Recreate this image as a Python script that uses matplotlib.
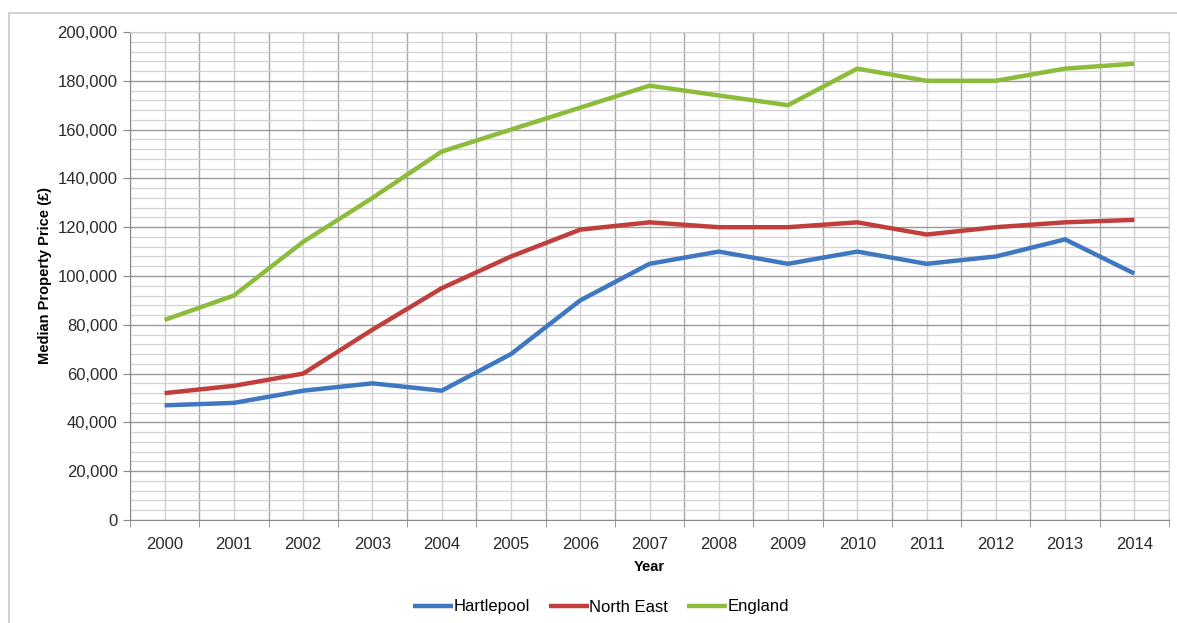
import numpy as np
import matplotlib
matplotlib.use('Agg')
from matplotlib import pyplot as plt
from matplotlib.patches import Rectangle

plt.rcParams['font.family'] = ['Liberation Sans', 'DejaVu Sans']

# median property price (GBP)
years = ['2000', '2001', '2002', '2003', '2004', '2005', '2006', '2007',
         '2008', '2009', '2010', '2011', '2012', '2013', '2014']
hartlepool = [47000, 48000, 53000, 56000, 53000, 68000, 90000, 105000,
              110000, 105000, 110000, 105000, 108000, 115000, 101000]
north_east = [52000, 55000, 60000, 78000, 95000, 108000, 119000, 122000,
              120000, 120000, 122000, 117000, 120000, 122000, 123000]
england = [82000, 92000, 114000, 132000, 151000, 160000, 169000, 178000,
           174000, 170000, 185000, 180000, 180000, 185000, 187000]

series_names = ['Hartlepool', 'North East', 'England']
series_colors = ['#3f77c0', '#c03f3d', '#8dbb3c']


def main():
    fig = plt.figure(figsize=(11.77, 6.23), dpi=100)

    # outer chart frame (runs off the right/bottom of the screenshot)
    fig.patches.append(Rectangle((9 / 1177, -0.05), 1.2, 1 - 13 / 623 + 0.05,
                                 transform=fig.transFigure, fill=False,
                                 edgecolor='#c8c8c8', linewidth=1.2))

    ax = fig.add_axes([130 / 1177, 1 - 520 / 623, 1039 / 1177, 488 / 623])
    x = np.arange(len(years))

    for vals, name, col in zip([hartlepool, north_east, england],
                               series_names, series_colors):
        ax.plot(x, vals, color=col, linewidth=3.2, label=name,
                solid_capstyle='butt', zorder=3)

    ax.set_xlim(-0.5, len(years) - 0.5)
    ax.set_ylim(0, 200000)

    # y grid: major every 20,000, minor every 4,000
    ax.set_yticks(np.arange(0, 200001, 20000))
    ax.set_yticks(np.arange(0, 200001, 4000), minor=True)
    ax.set_yticklabels([f'{v:,}' for v in range(0, 200001, 20000)])
    ax.grid(which='major', axis='y', color='#9a9a9a', linewidth=1.0)
    ax.grid(which='minor', axis='y', color='#d2d2d2', linewidth=0.9)

    # x grid: category centres and category boundaries
    ax.set_xticks(x)
    ax.set_xticklabels(years)
    ax.set_xticks(np.arange(-0.5, len(years), 1.0), minor=True)
    ax.grid(which='major', axis='x', color='#cfcfcf', linewidth=1.0)
    ax.grid(which='minor', axis='x', color='#a8a8a8', linewidth=1.0)
    ax.set_axisbelow(True)

    ax.tick_params(axis='x', which='major', length=0, pad=12,
                   labelsize=12, labelcolor='#2a2a2a')
    ax.tick_params(axis='x', which='minor', length=5, color='#888888')
    ax.tick_params(axis='y', which='major', length=5, color='#888888',
                   labelsize=12, labelcolor='#2a2a2a', pad=4)
    ax.tick_params(axis='y', which='minor', length=0)

    for side in ['left', 'bottom']:
        ax.spines[side].set_color('#8a8a8a')
    for side in ['top', 'right']:
        ax.spines[side].set_color('#d0d0d0')

    ax.set_xlabel('Year', fontsize=10.5, fontweight='bold', labelpad=6)
    ax.set_ylabel('Median Property Price (£)', fontsize=10.5,
                  fontweight='bold', labelpad=4)

    fig.legend(loc='center', bbox_to_anchor=(601 / 1177, 1 - 607 / 623),
               ncol=3, frameon=False, fontsize=12, handlelength=2.4,
               handletextpad=0.05, columnspacing=1.1)

    fig.savefig('out.png', dpi=100)


if __name__ == '__main__':
    main()
